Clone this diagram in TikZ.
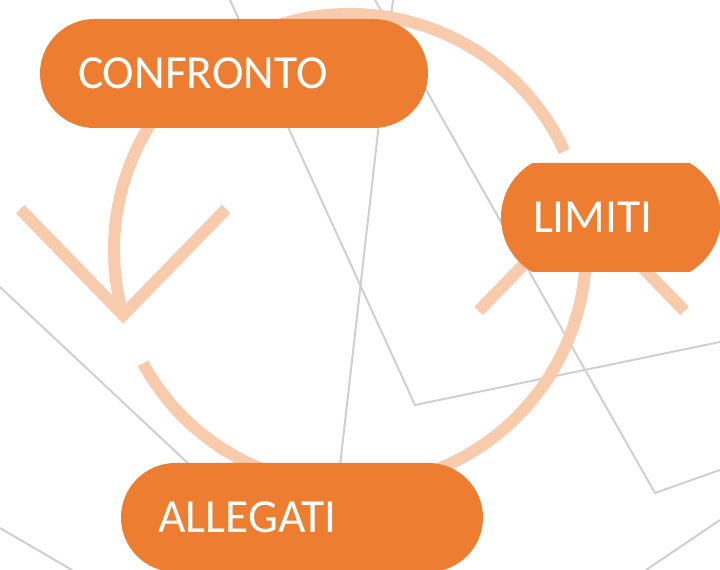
\documentclass[tikz,border=0pt]{standalone}
\usepackage{fontspec}
\setmainfont{Carlito}
\usetikzlibrary{shapes.misc}
\definecolor{boxorange}{HTML}{ED7D31}
\definecolor{arcorange}{HTML}{F8CBAD}
\definecolor{linegray}{HTML}{CFCFCF}

\begin{document}
\begin{tikzpicture}[x=1pt,y=1pt,
    stepbox/.style={rounded rectangle, fill=boxorange, inner sep=0pt, minimum height=109pt},
    steptext/.style={anchor=west, inner sep=0pt, text=white, font=\fontsize{47.5}{52}\selectfont},
    cyclearc/.style={arcorange, line width=12pt},
    bgline/.style={linegray, line width=2pt}]
    \useasboundingbox (0,0) rectangle (720,570);
    % Coordinates
    \coordinate (C) at (350,320);
    % Background lines
    \draw[bgline] (230,570) -- (415,165) -- (720,228);
    \draw[bgline] (375,570) -- (655,77) -- (720,100);
    \draw[bgline] (393,570) -- (335,60);
    \draw[bgline] (0,283) -- (240,58);
    \draw[bgline] (0,42) -- (72,0);
    \draw[bgline] (720,50) -- (646,0);

    % Cycle arcs
    \draw[cyclearc] ([shift={(24.7:236)}]C) arc[start angle=24.7, end angle=196, radius=236] coordinate (tipL);
    \draw[cyclearc] ([shift={(208.7:236)}]C) arc[start angle=208.7, end angle=371, radius=236] coordinate (tipR);
    % Arrow heads
    \draw[cyclearc] ([shift={(-103,106)}]tipL) -- (tipL) -- ([shift={(103,106)}]tipL);
    \draw[cyclearc] ([shift={(-103,-106)}]tipR) -- (tipR) -- ([shift={(103,-106)}]tipR);

    % Boxes
    \node[stepbox, minimum width=388pt] (confronto) at (234,496.5) {};
    \node[stepbox, minimum width=220pt, rounded rectangle arc length=120] (limiti) at (611,352.5) {};
    \node[stepbox, minimum width=362pt] (allegati) at (302,52.5) {};
    % Labels
    \node[steptext] (confronto-text) at ([xshift=38pt]confronto.west) {CONFRONTO};
    \node[steptext] (limiti-text) at ([xshift=32pt]limiti.west) {LIMITI};
    \node[steptext] (allegati-text) at ([xshift=37pt]allegati.west) {ALLEGATI};
\end{tikzpicture}
\end{document}
